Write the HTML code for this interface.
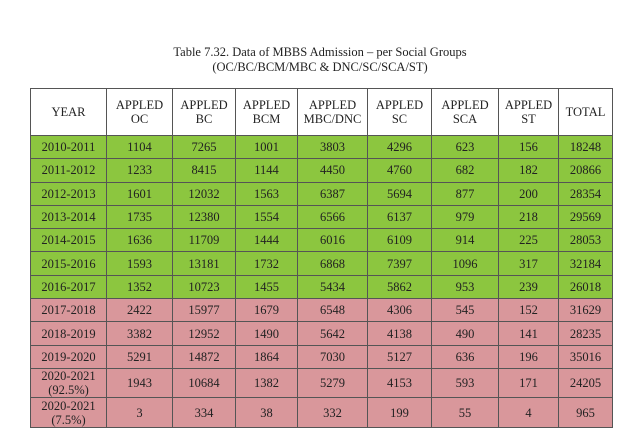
<!DOCTYPE html>
<html><head><style>
body{margin:0;background:#fff;width:640px;height:447px;overflow:hidden;font-family:"Liberation Serif",serif;color:#222}
.t{position:absolute;left:0;width:640px;text-align:center;font-size:12.5px;line-height:15px}
table{position:absolute;left:30px;top:88px;border-collapse:collapse;font-size:12.5px}
td{border:1px solid #555;text-align:center;padding:0;line-height:14px}
tr.h td{height:46px;background:#fff}
tr.g td{background:#8cc63f;height:22.3px}
tr.p td{background:#d9979b;height:22.3px}
tr.p2 td{background:#d9979b;height:28.5px}
</style></head><body>
<div class="t" style="top:45px">Table 7.32. Data of MBBS Admission – per Social Groups</div>
<div class="t" style="top:60px">(OC/BC/BCM/MBC &amp; DNC/SC/SCA/ST)</div>
<table>
<colgroup><col style="width:76px"><col style="width:66px"><col style="width:63px"><col style="width:62px"><col style="width:70px"><col style="width:64px"><col style="width:67px"><col style="width:60px"><col style="width:54px"></colgroup>
<tr class="h"><td>YEAR</td><td>APPLED<br>OC</td><td>APPLED<br>BC</td><td>APPLED<br>BCM</td><td>APPLED<br>MBC/DNC</td><td>APPLED<br>SC</td><td>APPLED<br>SCA</td><td>APPLED<br>ST</td><td>TOTAL</td></tr>
<tr class="g"><td>2010-2011</td><td>1104</td><td>7265</td><td>1001</td><td>3803</td><td>4296</td><td>623</td><td>156</td><td>18248</td></tr>
<tr class="g"><td>2011-2012</td><td>1233</td><td>8415</td><td>1144</td><td>4450</td><td>4760</td><td>682</td><td>182</td><td>20866</td></tr>
<tr class="g"><td>2012-2013</td><td>1601</td><td>12032</td><td>1563</td><td>6387</td><td>5694</td><td>877</td><td>200</td><td>28354</td></tr>
<tr class="g"><td>2013-2014</td><td>1735</td><td>12380</td><td>1554</td><td>6566</td><td>6137</td><td>979</td><td>218</td><td>29569</td></tr>
<tr class="g"><td>2014-2015</td><td>1636</td><td>11709</td><td>1444</td><td>6016</td><td>6109</td><td>914</td><td>225</td><td>28053</td></tr>
<tr class="g"><td>2015-2016</td><td>1593</td><td>13181</td><td>1732</td><td>6868</td><td>7397</td><td>1096</td><td>317</td><td>32184</td></tr>
<tr class="g"><td>2016-2017</td><td>1352</td><td>10723</td><td>1455</td><td>5434</td><td>5862</td><td>953</td><td>239</td><td>26018</td></tr>
<tr class="p"><td>2017-2018</td><td>2422</td><td>15977</td><td>1679</td><td>6548</td><td>4306</td><td>545</td><td>152</td><td>31629</td></tr>
<tr class="p"><td>2018-2019</td><td>3382</td><td>12952</td><td>1490</td><td>5642</td><td>4138</td><td>490</td><td>141</td><td>28235</td></tr>
<tr class="p"><td>2019-2020</td><td>5291</td><td>14872</td><td>1864</td><td>7030</td><td>5127</td><td>636</td><td>196</td><td>35016</td></tr>
<tr class="p2"><td>2020-2021<br>(92.5%)</td><td>1943</td><td>10684</td><td>1382</td><td>5279</td><td>4153</td><td>593</td><td>171</td><td>24205</td></tr>
<tr class="p2"><td>2020-2021<br>(7.5%)</td><td>3</td><td>334</td><td>38</td><td>332</td><td>199</td><td>55</td><td>4</td><td>965</td></tr>
</table>
</body></html>
